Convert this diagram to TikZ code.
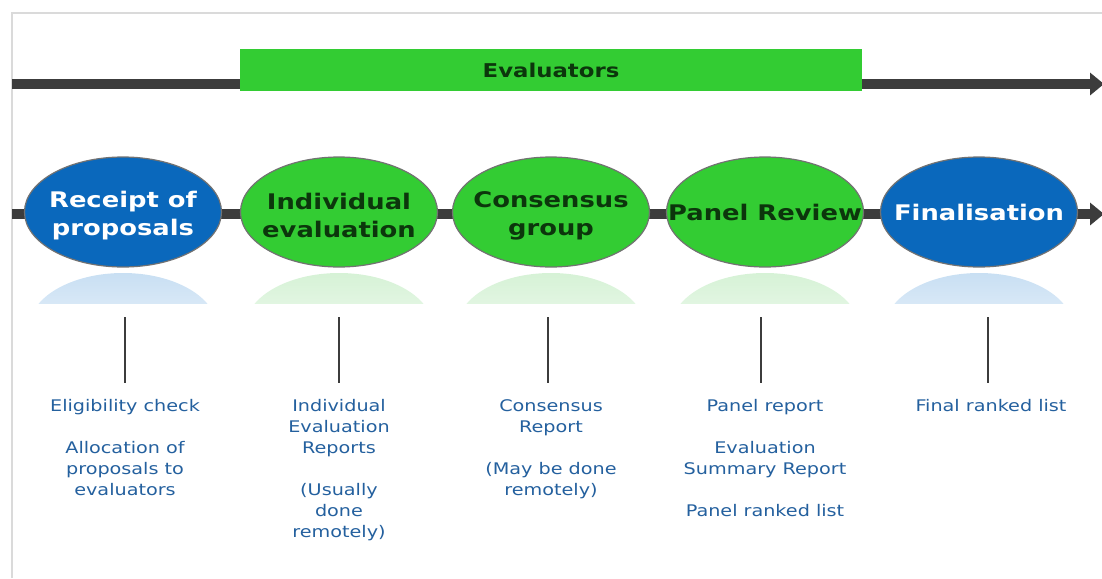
\documentclass[tikz,border=0pt]{standalone}
\usepackage{fontspec}
\setmainfont{DejaVu Sans}[FakeStretch=1.2]
\usetikzlibrary{arrows.meta,shapes.geometric}
\definecolor{framegray}{HTML}{DADADA}
\definecolor{trackgray}{HTML}{3C3C3C}
\definecolor{evgreen}{HTML}{33CC33}
\definecolor{evblue}{HTML}{0A68BC}
\definecolor{darkgreen}{HTML}{0C360C}
\definecolor{noteblue}{HTML}{24609E}
\definecolor{rimgray}{HTML}{727272}
\definecolor{reflblue}{HTML}{C8DFF3}
\definecolor{reflgreen}{HTML}{D6F2D6}
\newcommand{\lowstrut}{\rule{0pt}{24pt}}
\begin{document}
\begin{tikzpicture}[x=1pt,y=-1pt,
  track/.style={draw=trackgray,line width=10pt,-{Triangle[length=14pt,width=22pt]}},
  stage/.style={ellipse,draw=rimgray,line width=1.2pt,minimum width=197pt,minimum height=110pt,inner xsep=-70pt,inner ysep=-30pt,align=center,font=\bfseries\fontsize{21.5}{28}\selectfont},
  greenstage/.style={stage,fill=evgreen,text=darkgreen},
  bluestage/.style={stage,fill=evblue,text=white},
  note/.style={anchor=north,inner sep=0pt,align=center,text=noteblue,font=\fontsize{16}{21}\selectfont},
  tick/.style={draw=trackgray,line width=2pt},
  framerule/.style={draw=framegray,line width=2pt}]
\clip (0,0) rectangle (1102,578);
% frame
\coordinate (f1) at (12,578);
\coordinate (f2) at (12,13);
\coordinate (f3) at (1102,13);
\draw[framerule] (f1) -- (f2) -- (f3);
% top track and evaluators bar
\coordinate (ts) at (12,84);
\coordinate (te) at (1104,84);
\draw[track] (ts) -- (te);
\node[fill=evgreen,minimum width=622pt,minimum height=42pt,inner sep=0pt,text=darkgreen,font=\bfseries\fontsize{19}{22}\selectfont] (eval) at (551,70) {Evaluators};
% middle track
\coordinate (ms) at (12,214);
\coordinate (me) at (1104,214);
\draw[track] (ms) -- (me);
% reflections
\foreach \cx/\col in {123/reflblue,339/reflgreen,551/reflgreen,765/reflgreen,979/reflblue}{
  \begin{scope}
    \clip (\cx-100,272) rectangle (\cx+100,303);
    \shade[top color=\col,bottom color=white] (\cx,328) ellipse (94 and 55);
  \end{scope}
}
% stages
\node[bluestage]  (receipt) at (123,212) {\lowstrut Receipt of\\proposals};
\node[greenstage] (indiv)   at (339,212) {\lowstrut Individual\\evaluation};
\node[greenstage] (cons)    at (551,212) {\lowstrut Consensus\\group};
\node[greenstage] (panel)   at (765,212) {Panel Review};
\node[bluestage]  (final)   at (979,212) {Finalisation};
% notes
\node[note] (n1) at (125,399) {Eligibility check\\[21pt]Allocation of\\proposals to\\evaluators};
\node[note] (n2) at (339,399) {Individual\\Evaluation\\Reports\\[21pt](Usually\\done\\remotely)};
\node[note] (n3) at (551,399) {Consensus\\Report\\[21pt](May be done\\remotely)};
\node[note] (n4) at (765,399) {Panel report\\[21pt]Evaluation\\Summary Report\\[21pt]Panel ranked list};
\node[note] (n5) at (991,399) {Final ranked list};
% ticks
\foreach \n/\tx in {n1/125,n2/339,n3/548,n4/761,n5/988}{
  \coordinate (\n top) at (\tx,317);
  \coordinate (\n bot) at (\tx,383);
  \draw[tick] (\n top) -- (\n bot);
}
\end{tikzpicture}
\end{document}
